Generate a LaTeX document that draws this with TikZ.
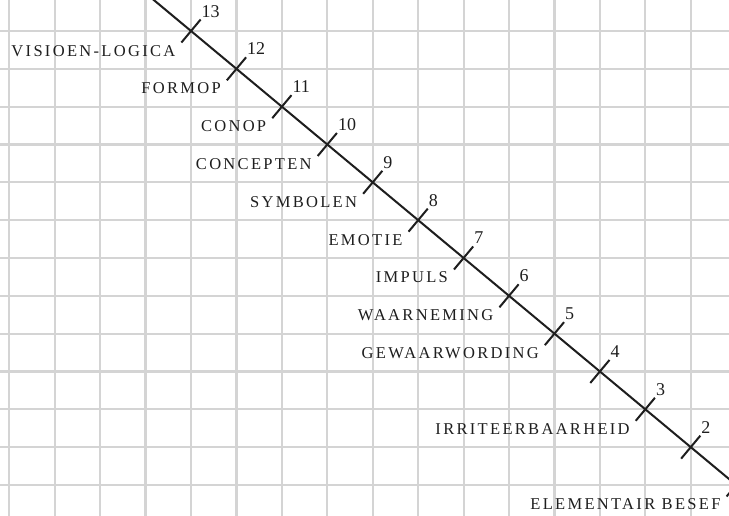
\documentclass[tikz,border=0pt]{standalone}
\usepackage{fontspec}
\setmainfont{Liberation Serif}
\newfontfamily\labfont{Liberation Serif}[LetterSpace=14]
\usetikzlibrary{calc}
\definecolor{gridgray}{RGB}{212,212,212}
\definecolor{ink}{RGB}{30,30,30}
\tikzset{
  gridline/.style={draw=gridgray, line width=2.2pt},
  axisline/.style={draw=ink, line width=2pt},
  tickmark/.style={draw=ink, line width=2pt},
  numlabel/.style={inner sep=0pt, text=ink, font=\fontsize{18}{21}\selectfont, anchor=base west},
  stagelabel/.style={inner sep=0pt, text=ink, font=\labfont\fontsize{16.5}{19}\selectfont, anchor=base east}
}
\begin{document}
\begin{tikzpicture}[x=1pt, y={(0pt,-1pt)}]
\useasboundingbox (0,0) rectangle (729,515);
\clip (0,0) rectangle (729,515);
\fill[white] (0,0) rectangle (729,515);
% grid
\foreach \k in {0,...,15} \draw[gridline] ({9.3+45.43*\k},-5) -- ({9.3+45.43*\k},520);
\foreach \j in {0,...,12} \draw[gridline] (-5,{31+37.83*\j}) -- (735,{31+37.83*\j});
% tick points
\foreach \n in {1,...,13} \coordinate (t\n) at ({9.3+45.43*(17-\n)},{31+37.83*(13-\n)});
\coordinate (top) at ({9.3+45.43*3},{31+37.83*(-1)});
\coordinate (bot) at ({9.3+45.43*17},{31+37.83*13});
\draw[axisline] (top) -- (t13) -- (t1) -- (bot);
\foreach \n in {1,...,13} {
  \draw[tickmark] ($(t\n)+(-9.6,11.5)$) -- ($(t\n)+(9.6,-11.5)$);
}
\foreach \n in {2,...,13} {
  \node[numlabel] (n\n) at ($(t\n)+(10.5,-14)$) {\n};
}
\foreach \n/\txt in {13/VISIOEN-LOGICA, 12/FORMOP, 11/CONOP, 10/CONCEPTEN, 9/SYMBOLEN, 8/EMOTIE, 7/IMPULS, 6/WAARNEMING, 5/GEWAARWORDING, 3/IRRITEERBAARHEID, 1/ELEMENTAIR BESEF}
  \node[stagelabel] (l\n) at ($(t\n)+(-15.5,25)$) {\txt};
\end{tikzpicture}
\end{document}
